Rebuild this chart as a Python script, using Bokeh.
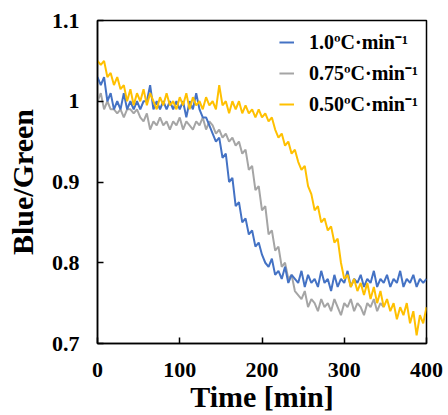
from bokeh.plotting import figure
from bokeh.models import FixedTicker, Legend, LegendItem, Range1d
from bokeh.embed import file_html
from bokeh.resources import INLINE

# ---- data ----
time_blue = list(range(0, 401, 4))
blue = [1.03, 1.02, 1.03, 1.00, 1.01, 0.99, 1.00, 0.99, 1.01, 0.99,
        1.00, 0.99, 1.00, 0.99, 1.00, 1.00, 1.02, 0.99, 1.00, 0.99,
        1.00, 0.99, 1.00, 0.99, 1.00, 0.99, 1.00, 0.98, 1.00, 0.99,
        1.01, 0.99, 0.98, 0.98, 0.97, 0.96, 0.95, 0.955, 0.93, 0.935,
        0.90, 0.905, 0.87, 0.875, 0.85, 0.855, 0.835, 0.84, 0.82, 0.825,
        0.81, 0.80, 0.795, 0.805, 0.785, 0.79, 0.78, 0.795, 0.775, 0.785,
        0.78, 0.775, 0.79, 0.77, 0.785, 0.775, 0.78, 0.77, 0.79, 0.775,
        0.78, 0.765, 0.785, 0.77, 0.78, 0.775, 0.79, 0.77, 0.78, 0.775,
        0.785, 0.77, 0.78, 0.775, 0.79, 0.77, 0.78, 0.775, 0.785, 0.77,
        0.78, 0.775, 0.79, 0.77, 0.78, 0.775, 0.785, 0.77, 0.78, 0.775,
        0.78]

time_gray = list(range(0, 349, 4))
gray = [1.00, 1.01, 0.99, 1.00, 0.99, 0.99, 0.985, 0.99, 0.98, 0.99,
        0.99, 0.985, 0.99, 0.98, 0.975, 0.985, 0.965, 0.975, 0.97, 0.98,
        0.97, 0.975, 0.965, 0.975, 0.97, 0.98, 0.965, 0.975, 0.97, 0.965,
        0.975, 0.97, 0.98, 0.965, 0.975, 0.97, 0.96, 0.965, 0.955, 0.96,
        0.95, 0.955, 0.945, 0.95, 0.935, 0.94, 0.915, 0.92, 0.89, 0.895,
        0.865, 0.87, 0.835, 0.84, 0.815, 0.82, 0.795, 0.80, 0.78, 0.785,
        0.765, 0.76, 0.755, 0.765, 0.745, 0.755, 0.75, 0.74, 0.755, 0.745,
        0.75, 0.74, 0.755, 0.745, 0.735, 0.75, 0.745, 0.755, 0.74, 0.75,
        0.745, 0.735, 0.75, 0.745, 0.755, 0.74, 0.75, 0.745]

time_yellow = list(range(0, 401, 4))
yellow = [1.05, 1.045, 1.05, 1.03, 1.035, 1.02, 1.03, 1.015, 1.02, 1.00,
          1.015, 0.995, 1.01, 1.00, 1.015, 0.995, 1.01, 1.00, 0.99, 1.005,
          0.995, 1.01, 0.995, 1.00, 0.99, 1.005, 0.995, 1.01, 0.99, 1.005,
          0.995, 1.00, 0.99, 1.005, 0.995, 1.00, 0.99, 1.02, 0.995, 1.00,
          0.985, 1.00, 0.99, 1.00, 0.985, 0.995, 0.985, 0.99, 0.98, 0.99,
          0.98, 0.985, 0.975, 0.98, 0.965, 0.955, 0.96, 0.945, 0.95, 0.935,
          0.94, 0.925, 0.915, 0.92, 0.895, 0.885, 0.865, 0.87, 0.85, 0.855,
          0.84, 0.845, 0.825, 0.83, 0.80, 0.78, 0.785, 0.77, 0.78, 0.765,
          0.775, 0.76, 0.775, 0.755, 0.77, 0.75, 0.765, 0.745, 0.755, 0.74,
          0.75, 0.73, 0.745, 0.735, 0.75, 0.725, 0.74, 0.71, 0.735, 0.725,
          0.745]

series_labels = ["1.0\u00baC\u00b7min\u207b\u00b9", "0.75\u00baC\u00b7min\u207b\u00b9", "0.50\u00baC\u00b7min\u207b\u00b9"]
series_colors = ["#4472C4", "#A5A5A5", "#FFC000"]

x_ticks = [0, 100, 200, 300, 400]
x_tick_labels = ["0", "100", "200", "300", "400"]
y_ticks = [0.7, 0.8, 0.9, 1.0, 1.1]
y_tick_labels = ["0.7", "0.8", "0.9", "1", "1.1"]

FONT = "Liberation Serif"

p = figure(width=448, height=415, output_backend="svg", toolbar_location=None,
           x_range=Range1d(0, 400), y_range=Range1d(0.7, 1.1),
           min_border_left=97, min_border_right=22, min_border_top=20, min_border_bottom=72)

r_gray = p.line(time_gray, gray, line_color=series_colors[1], line_width=2)
r_blue = p.line(time_blue, blue, line_color=series_colors[0], line_width=2)
r_yellow = p.line(time_yellow, yellow, line_color=series_colors[2], line_width=2)

p.xgrid.visible = False
p.ygrid.visible = False
p.background_fill_color = "white"
p.border_fill_color = "white"
p.outline_line_color = "black"
p.outline_line_width = 1.5
p.outline_line_alpha = 1.0

for ax in (p.xaxis[0], p.yaxis[0]):
    ax.axis_line_color = "black"
    ax.axis_line_width = 1.5
    ax.major_tick_line_color = "black"
    ax.major_tick_line_width = 1.5
    ax.major_tick_in = 6
    ax.major_tick_out = 0
    ax.minor_tick_line_color = None
    ax.major_label_text_font = FONT
    ax.major_label_text_font_style = "bold"
    ax.major_label_text_font_size = "22px"
    ax.major_label_text_color = "black"
    ax.axis_label_text_font = FONT
    ax.axis_label_text_font_style = "bold"
    ax.axis_label_text_font_size = "30px"
    ax.axis_label_text_color = "black"

p.xaxis.ticker = FixedTicker(ticks=x_ticks)
p.xaxis.major_label_overrides = dict(zip(x_ticks, x_tick_labels))
p.yaxis.ticker = FixedTicker(ticks=y_ticks)
p.yaxis.major_label_overrides = dict(zip(y_ticks, y_tick_labels))

p.xaxis.axis_label = "Time [min]"
p.yaxis.axis_label = "Blue/Green"
p.xaxis.major_label_standoff = 19
p.xaxis.axis_label_standoff = 0
p.yaxis.major_label_standoff = 18
p.yaxis.axis_label_standoff = 10

legend = Legend(items=[
    LegendItem(label=series_labels[0], renderers=[r_blue]),
    LegendItem(label=series_labels[1], renderers=[r_gray]),
    LegendItem(label=series_labels[2], renderers=[r_yellow]),
], location="top_right")
legend.label_text_font = FONT
legend.label_text_font_style = "bold"
legend.label_text_font_size = "20px"
legend.label_text_color = "black"
legend.background_fill_alpha = 0
legend.border_line_color = None
legend.glyph_width = 15
legend.label_standoff = 15
legend.spacing = 4
legend.padding = 5
legend.margin = 8
p.add_layout(legend)

open("out.html", "w").write(file_html(p, INLINE))
